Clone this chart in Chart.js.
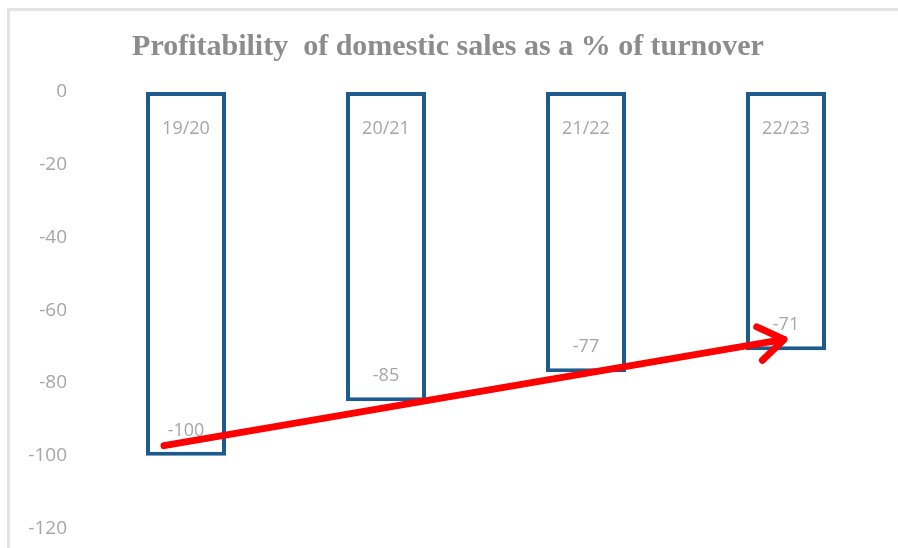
<!DOCTYPE html>
<html>
<head>
<meta charset="utf-8">
<script src="https://cdn.jsdelivr.net/npm/chart.js@4.4.1/dist/chart.umd.min.js"></script>
<style>
  html, body { margin: 0; padding: 0; background: #fff; }
  #wrap {
    position: absolute; left: 7px; top: 8px;
    width: 891px; height: 540px;
    border-left: 3px solid #e3e3e3; border-top: 3px solid #e3e3e3;
  }
  canvas { display: block; }
</style>
</head>
<body>
<div id="wrap"><canvas id="graph" width="891" height="540"></canvas></div>
<script>
// données
const saisons = ["19/20", "20/21", "21/22", "22/23"];
const rentabilite = [-100, -85, -77, -71];
const yMin = -120, yMax = 0, yPas = 20;
// début et fin de la flèche (en valeurs de l'axe)
const flecheDebut = -97.2;
const flecheFin = -68;

const gris = '#a6a6a6';

// étiquettes dans les barres + flèche rouge
const etiquettes = {
    id: 'etiquettes',
    afterDatasetsDraw(chart) {
        const ctx = chart.ctx;
        const y = chart.scales.y;
        const meta = chart.getDatasetMeta(0);
        ctx.save();
        ctx.font = '18px "Open Sans", sans-serif';
        ctx.fillStyle = gris;
        ctx.textAlign = 'center';
        ctx.textBaseline = 'middle';
        meta.data.forEach((bar, i) => {
            ctx.fillText(saisons[i], bar.x, y.getPixelForValue(0) + 37);
            ctx.fillText(String(rentabilite[i]), bar.x, bar.y - 25);
        });

        // flèche
        const x0 = meta.data[0].x - 22, y0 = y.getPixelForValue(flecheDebut);
        const x1 = meta.data[3].x - 2, y1 = y.getPixelForValue(flecheFin);
        const ang = Math.atan2(y1 - y0, x1 - x0);
        ctx.strokeStyle = '#ff0000';
        ctx.lineWidth = 7;
        ctx.lineCap = 'round';
        ctx.lineJoin = 'round';
        ctx.beginPath();
        ctx.moveTo(x0, y0);
        ctx.lineTo(x1, y1);
        ctx.moveTo(x1 - 30 * Math.cos(ang - 0.6), y1 - 30 * Math.sin(ang - 0.6));
        ctx.lineTo(x1, y1);
        ctx.lineTo(x1 - 30 * Math.cos(ang + 0.6), y1 - 30 * Math.sin(ang + 0.6));
        ctx.stroke();
        ctx.restore();
    }
};

new Chart(document.getElementById('graph'), {
    type: 'bar',
    data: {
        labels: saisons,
        datasets: [{
            data: rentabilite,
            backgroundColor: '#ffffff',
            borderColor: '#1d5b8f',
            borderWidth: 4,
            borderSkipped: false,
            barPercentage: 0.4,
            categoryPercentage: 1
        }]
    },
    options: {
        responsive: false,
        animation: false,
        layout: { padding: { right: 15, bottom: 3 } },
        plugins: {
            legend: { display: false },
            tooltip: { enabled: false },
            title: {
                display: true,
                text: 'Profitability  of domestic sales as a % of turnover',
                color: '#8c8c8c',
                font: { family: '"Liberation Serif", serif', size: 30, weight: 'bold' },
                padding: { top: 18, bottom: 27 }
            }
        },
        scales: {
            x: {
                display: false
            },
            y: {
                min: yMin, max: yMax,
                border: { display: false },
                grid: { display: false },
                ticks: {
                    stepSize: yPas,
                    color: gris,
                    padding: 11,
                    font: { family: '"Open Sans", sans-serif', size: 19 }
                },
                afterFit(scale) { scale.width = 76; }
            }
        }
    },
    plugins: [etiquettes]
});
</script>
</body>
</html>
